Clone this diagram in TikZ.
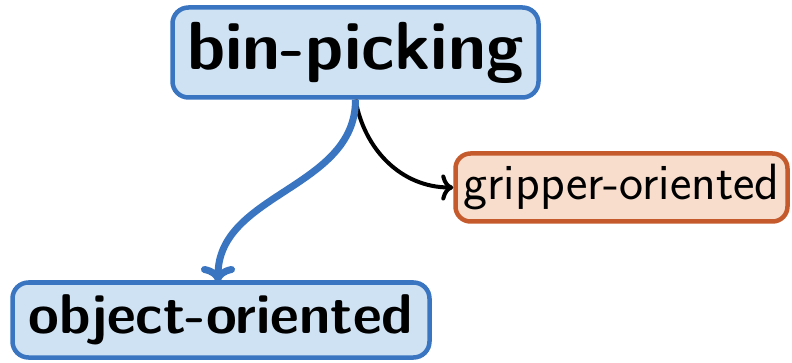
\documentclass[tikz,border=0pt]{standalone}
\usetikzlibrary{arrows.meta}
\definecolor{boxblue}{RGB}{58,117,193}
\definecolor{fillblue}{RGB}{207,226,243}
\definecolor{boxorange}{RGB}{197,90,45}
\definecolor{fillorange}{RGB}{248,221,204}
\tikzset{
  mainbox/.style={draw=boxblue, fill=fillblue, line width=4.5pt, rounded corners=16pt,
    inner sep=0pt, font=\sffamily\bfseries},
  sidebox/.style={draw=boxorange, fill=fillorange, line width=4.5pt, rounded corners=15pt,
    inner sep=0pt, font=\sffamily},
  bluearrow/.style={draw=boxblue, line width=7pt, -{To[length=16pt,width=34pt]}},
  blackarrow/.style={draw=black, line width=4pt, -{To[length=12pt,width=26pt]}}
}
\begin{document}
\begin{tikzpicture}[x=1pt,y=-1pt]
\useasboundingbox (0,0) rectangle (792,363);
\node[mainbox, minimum width=366pt, minimum height=90pt] (bin) at (355.5,52.5)
  {\fontsize{68}{72}\selectfont\raisebox{-2.5pt}{bin-picking}};
\node[sidebox, minimum width=332pt, minimum height=68pt] (grip) at (621.5,187.5)
  {\fontsize{51}{56}\selectfont\raisebox{-2pt}{gripper-oriented}};
\node[mainbox, minimum width=417pt, minimum height=75pt] (obj) at (221,320)
  {\fontsize{56}{60}\selectfont\raisebox{-1pt}{object-oriented}};
\coordinate (objin) at (218,282);
\draw[blackarrow] (bin.south) to[out=-80,in=180] (grip.west);
\draw[bluearrow] (bin.south) to[out=-90,in=90] (objin);
\end{tikzpicture}
\end{document}
